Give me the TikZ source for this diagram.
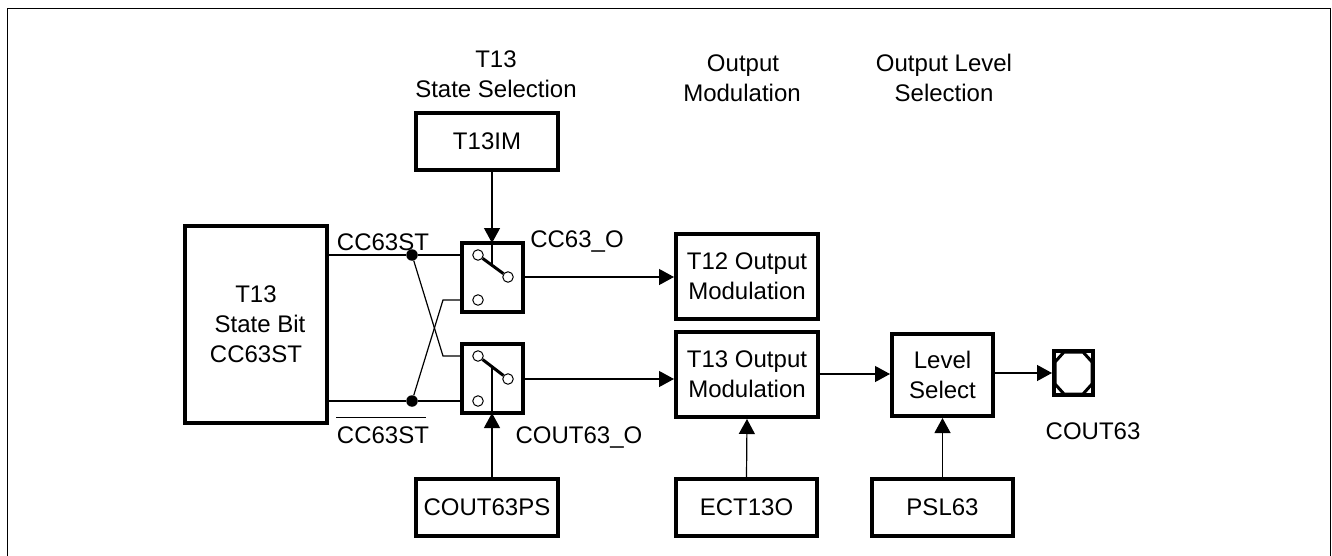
\documentclass[tikz,border=0pt]{standalone}
\usepackage{fontspec}
\setmainfont{Liberation Sans}
\usetikzlibrary{arrows.meta}
\tikzset{
  x=1pt,y=-1pt,
  blk/.style={draw=black,line width=4pt,fill=none,align=center,inner sep=0pt,font=\fontsize{24}{30}\selectfont},
  lbl/.style={anchor=base,inner sep=0pt,font=\fontsize{24}{30}\selectfont,align=center},
  conn/.style={draw=black,line width=1.2pt},
  arr/.style={conn,-{Triangle[length=15pt,width=16pt]}},
  lever/.style={draw=black,line width=3pt},
  contact/.style={circle,draw=black,line width=1pt,fill=white,minimum size=10.5pt,inner sep=0pt},
  dotn/.style={circle,fill=black,minimum size=11.5pt,inner sep=0pt},
  frameln/.style={draw=black,line width=1.5pt},
}
\begin{document}
\begin{tikzpicture}
\useasboundingbox (0,0) rectangle (1332,556);
% frame
\coordinate (fa) at (7.5,556);
\coordinate (fb) at (7.5,8.5);
\coordinate (fc) at (1330.5,8.5);
\coordinate (fd) at (1330.5,556);
\draw[frameln] (fa) -- (fb) -- (fc) -- (fd);
% boxes
\node[blk,minimum width=142pt,minimum height=197pt] (big) at (256,324.5) {T13\\\hspace*{8pt}State Bit\\CC63ST};
\node[blk,minimum width=142pt,minimum height=57pt] (im) at (487,141.5) {T13IM};
\node[blk,minimum width=61pt,minimum height=69pt] (swa) at (492.5,277.5) {};
\node[blk,minimum width=61pt,minimum height=69pt] (swb) at (492.5,378.5) {};
\node[blk,minimum width=142pt,minimum height=85pt] (mta) at (747,276.5) {T12 Output\\Modulation};
\node[blk,minimum width=142pt,minimum height=85pt] (mtb) at (747,374.5) {T13 Output\\Modulation};
\node[blk,minimum width=101pt,minimum height=82pt] (lev) at (942.5,375) {Level\\Select};
\node[blk,minimum width=142pt,minimum height=57pt] (ps) at (487,507.5) {COUT63PS};
\node[blk,minimum width=141pt,minimum height=57pt] (ect) at (746.5,507.5) {ECT13O};
\node[blk,minimum width=141pt,minimum height=57pt] (psl) at (942.5,507.5) {PSL63};
\node[draw=black,line width=4pt,minimum width=39pt,minimum height=44pt,inner sep=0pt] (pad) at (1073.5,373) {};
\draw[draw=black,line width=3pt] (1064,352) -- (1083,352) -- (1092,362) -- (1092,384) -- (1083,394) -- (1064,394) -- (1055,384) -- (1055,362) -- cycle;
% texts
\node[lbl] (h1) at (496,68) {T13};
\node[lbl] (h2) at (496,98) {State Selection};
\node[lbl] (h3) at (743,72) {Output};
\node[lbl] (h4) at (742,102) {Modulation};
\node[lbl] (h5) at (944,72) {Output Level};
\node[lbl] (h6) at (944,102) {Selection};
\node[lbl] (st) at (383,250) {CC63ST};
\node[lbl] (stn) at (383,443) {CC63ST};
\node[lbl] (oa) at (577,247) {CC63\_O};
\node[lbl] (ob) at (579,443) {COUT63\_O};
\node[lbl] (co) at (1093,439) {COUT63};
\coordinate (ova) at (336,417.5);
\coordinate (ovb) at (426,417.5);
\draw[conn] (ova) -- (ovb);
% contacts
\coordinate (sa) at (492,243);
\coordinate (sb) at (492,413);
\coordinate (la) at (492,265.5);
\coordinate (lb) at (492,366.5);
\draw[conn] (sa) -- (la);
\draw[conn] (sb) -- (lb);
\node[contact] (ca) at (478,255) {};
\node[contact] (cb) at (508,277) {};
\node[contact] (cc) at (478,300) {};
\node[contact] (cd) at (478,356) {};
\node[contact] (ce) at (508,379) {};
\node[contact] (cf) at (478,401) {};
\draw[lever] (ca) -- (cb);
\draw[lever] (cd) -- (ce);
% wiring
\node[dotn] (da) at (412,255) {};
\node[dotn] (db) at (412,401) {};
\coordinate (bc) at (443,300);
\coordinate (bd) at (443,356);
\draw[conn] (big.east |- da) -- (da) -- (swa.west |- da);
\draw[conn] (big.east |- db) -- (db) -- (swb.west |- db);
\draw[conn] (da) -- (bd) -- (swb.west |- bd);
\draw[conn] (db) -- (bc) -- (swa.west |- bc);
% arrows
\draw[arr] (sa |- im.south) -- (sa);
\draw[arr] (sb |- ps.north) -- (sb);
\draw[arr] (swa.east |- cb) -- (mta.west |- cb);
\draw[arr] (swb.east |- ce) -- (mtb.west |- ce);
\draw[arr] (ect.north) -- (mtb.south);
\draw[arr] (psl.north) -- (lev.south);
\coordinate (ml) at (818,374);
\draw[arr] (mtb.east |- ml) -- (lev.west |- ml);
\draw[arr] (lev.east |- pad) -- (pad.west);
\end{tikzpicture}
\end{document}
